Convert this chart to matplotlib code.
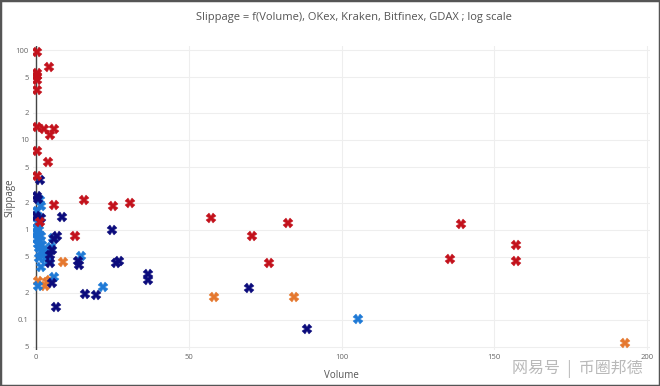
import matplotlib
matplotlib.use("Agg")
import matplotlib.pyplot as plt
from matplotlib.patches import Rectangle
from matplotlib.ticker import FixedLocator, NullLocator

# --- data: (volume, slippage) per exchange ---
red_x = [0.3, 4.3, 0.2, 0.2, 0.2, 0.2, 0.4, 2.6, 4.6, 6.0, 0.4, 4.0, 0.2, 6.0, 15.8, 25.1, 30.9,
         1.3, 12.8, 57.2, 82.6, 70.7, 76.4, 139.1, 135.5, 157.1, 157.0]
red_y = [96, 65, 56, 51, 46, 36, 14.1, 13.1, 11.4, 13.1, 7.5, 5.65, 3.98, 1.9, 2.12, 1.82, 1.98,
         1.21, 0.86, 1.35, 1.19, 0.86, 0.43, 1.17, 0.47, 0.67, 0.45]

navy_x = [1.3, 0.2, 0.7, 0.0, 1.6, 8.6, 25.0, 6.8, 5.8, 5.1, 4.6, 4.6, 13.6, 14.2, 26.1, 27.2,
          36.8, 36.8, 5.1, 16.1, 19.5, 6.5, 69.7, 88.6]
navy_y = [3.59, 2.39, 2.2, 1.43, 1.37, 1.4, 1.0, 0.86, 0.8, 0.6, 0.53, 0.43, 0.45, 0.41, 0.43, 0.45,
          0.32, 0.28, 0.256, 0.193, 0.186, 0.137, 0.225, 0.079]

blue_x = [1.2, 1.7, 0.3, 1.0, 0.5, 0.2, 1.0, 0.3, 0.8, 1.5, 0.4, 1.2, 0.6, 2.0, 1.0, 2.5, 1.5, 3.0,
          2.2, 3.9, 1.0, 2.8, 5.6, 5.0, 1.5, 14.8, 0.8, 6.0, 22.0, 105.4, 4.2]
blue_y = [2.15, 1.82, 1.6, 1.36, 1.2, 1.05, 1.0, 0.95, 0.9, 0.85, 0.8, 0.75, 0.7, 0.68, 0.63, 0.6,
          0.57, 0.55, 0.52, 0.5, 0.48, 0.47, 0.81, 0.65, 0.39, 0.51, 0.235, 0.3, 0.23, 0.103, 0.45]

orange_x = [8.9, 0.8, 2.9, 4.6, 3.5, 58.3, 84.6, 192.8]
orange_y = [0.433, 0.27, 0.235, 0.28, 0.26, 0.177, 0.18, 0.055]

y_ticks = [0.05, 0.1, 0.2, 0.5, 1, 2, 5, 10, 20, 50, 100]
y_tick_labels = ["5", "0.1", "2", "5", "1", "2", "5", "10", "2", "5", "100"]
x_ticks = [0, 50, 100, 150, 200]

plt.rcParams["font.family"] = ["Open Sans", "DejaVu Sans"]

fig = plt.figure(figsize=(6.6, 3.86), dpi=100)
ax = fig.add_axes([33 / 660, 1 - 350 / 386, (650 - 33) / 660, (350 - 46) / 386])

series = [
    (orange_x, orange_y, "#e5782f"),
    (blue_x, blue_y, "#1f7ad6"),
    (navy_x, navy_y, "#0c0c7c"),
    (red_x, red_y, "#c3121c"),
]
for xs, ys, c in series:
    ax.plot(xs, ys, ls="none", marker="X", ms=6.5, mfc=c, mec=c, mew=0.3, zorder=3)

ax.set_yscale("log")
ax.set_ylim(0.046, 111)
ax.set_xlim(-1, 201)
ax.yaxis.set_major_locator(FixedLocator(y_ticks))
ax.yaxis.set_minor_locator(NullLocator())
ax.set_yticklabels(y_tick_labels)
ax.set_xticks(x_ticks)
ax.tick_params(axis="both", length=0, labelsize=5.5, colors="#666666", pad=3)

ax.grid(True, color="#eeeeee", lw=0.8)
ax.set_axisbelow(True)
for s in ax.spines.values():
    s.set_visible(False)
ax.axvline(0, color="#444444", lw=1.0, zorder=2)

fig.text(341 / 660, 1 - 376 / 386, "Volume", ha="center", va="center", fontsize=7, color="#555555")
fig.text(10 / 660, 1 - 198 / 386, "Slippage", ha="center", va="center", rotation=90,
         fontsize=7, color="#555555")
fig.text(0.536, 0.955, "Slippage = f(Volume), OKex, Kraken, Bitfinex, GDAX ; log scale",
         ha="center", va="center", fontsize=8, color="#555555")

# watermark
fig.text(0.875, 0.043, "网易号  |  币圈邦德", ha="center", va="center", fontsize=11.5,
         color="#b5b5b5", alpha=0.95, family=["Noto Sans CJK SC", "DejaVu Sans"])

fig.patches.append(Rectangle((0, 0), 1, 1, transform=fig.transFigure, fill=False,
                             edgecolor="#555555", lw=2.5))

fig.savefig("out.png", dpi=100)
